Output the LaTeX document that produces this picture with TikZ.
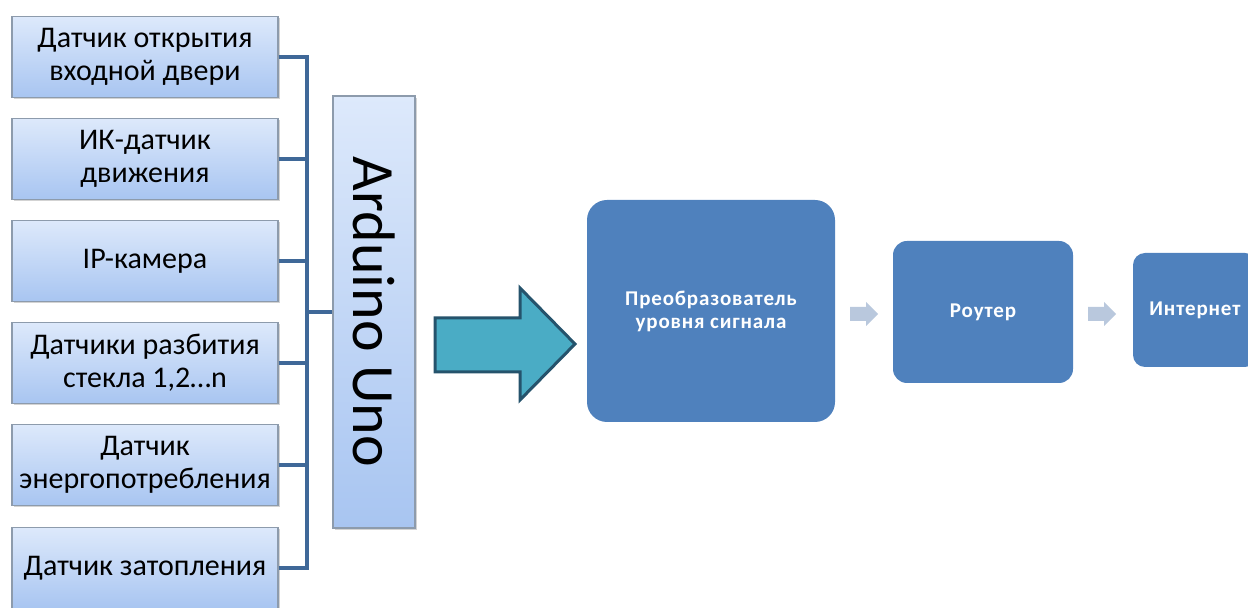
\documentclass[tikz,border=0pt]{standalone}
\usepackage{fontspec}
\setmainfont{Carlito}
\usetikzlibrary{shadows}
\definecolor{boxtop}{HTML}{DDE9FB}
\definecolor{boxbot}{HTML}{A8C5F1}
\definecolor{boxline}{HTML}{8D9BAC}
\definecolor{busline}{HTML}{3F6898}
\definecolor{procblue}{HTML}{4F81BD}
\definecolor{tealfill}{HTML}{4AACC5}
\definecolor{tealline}{HTML}{25536C}
\definecolor{chevfill}{HTML}{B9C8DD}
\tikzset{
  sensor/.style={draw=boxline, line width=0.6pt, top color=boxtop, bottom color=boxbot,
    minimum width=133pt, minimum height=40.5pt, inner sep=0pt, align=center,
    font=\fontsize{15}{16.5}\selectfont,
    drop shadow={shadow xshift=0.8pt, shadow yshift=-1pt, opacity=0.35}},
  board/.style={draw=boxline, line width=0.6pt, top color=boxtop, bottom color=boxbot,
    rotate=-90, minimum width=216pt, minimum height=41pt, inner sep=0pt,
    font=\fontsize{30}{30}\selectfont,
    drop shadow={shadow xshift=0.8pt, shadow yshift=-1pt, opacity=0.35}},
  bus/.style={draw=busline, line width=2pt},
  proc/.style={fill=procblue, text=white, align=center, inner sep=0pt,
    font=\fontsize{10.5}{11.5}\bfseries\addfontfeature{LetterSpace=4}},
  chev/.style={fill=chevfill},
  bigarrow/.style={fill=tealfill, draw=tealline, line width=1.5pt, line join=miter}
}
\begin{document}
\begin{tikzpicture}[x=0.5pt,y=-0.5pt]
        \useasboundingbox (0,0) rectangle (1248,608);
        \clip (0,0) rectangle (1248,608);
        % sensors
        \node[sensor](s1) at (145,57) {Датчик открытия\\входной двери};
        \node[sensor](s2) at (145,159) {ИК-датчик\\движения};
        \node[sensor](s3) at (145,261) {IP-камера};
        \node[sensor](s4) at (145,363) {Датчики разбития\\стекла 1,2…n};
        \node[sensor](s5) at (145,465) {Датчик\\энергопотребления};
        \node[sensor](s6) at (145,568) {Датчик затопления};
        % controller
        \node[board](ard) at (374,312) {Arduino Uno};
        \coordinate(bus) at (307,312);
        \draw[bus](s1.east)--(s1.east -| bus);
        \draw[bus](s2.east)--(s2.east -| bus);
        \draw[bus](s3.east)--(s3.east -| bus);
        \draw[bus](s4.east)--(s4.east -| bus);
        \draw[bus](s5.east)--(s5.east -| bus);
        \draw[bus](s6.east)--(s6.east -| bus);
        \draw[bus,line cap=rect](s1.east -| bus)--(s6.east -| bus);
        \draw[bus](bus)--(ard.south);
        % chain
        \node[proc, rounded corners=10pt, minimum width=124pt, minimum height=111pt](conv) at (711,311) {Преобразователь\\уровня сигнала};
        \node[proc, rounded corners=7pt, minimum width=90pt, minimum height=71pt](rout) at (983,312) {Роутер};
        \node[proc, rounded corners=6pt, minimum width=62pt, minimum height=57pt](inet) at (1195,310) {Интернет};
        \draw[bigarrow](435,318)--(520,318)--(520,288)--(575,344)--(520,400)--(520,372)--(435,372)--cycle;
        \fill[chev](850,307)--(866,307)--(866,302)--(878,314)--(866,326)--(866,321)--(850,321)--cycle;
        \fill[chev](1088,307)--(1104,307)--(1104,302)--(1116,314)--(1104,326)--(1104,321)--(1088,321)--cycle;
        \end{tikzpicture}
\end{document}
